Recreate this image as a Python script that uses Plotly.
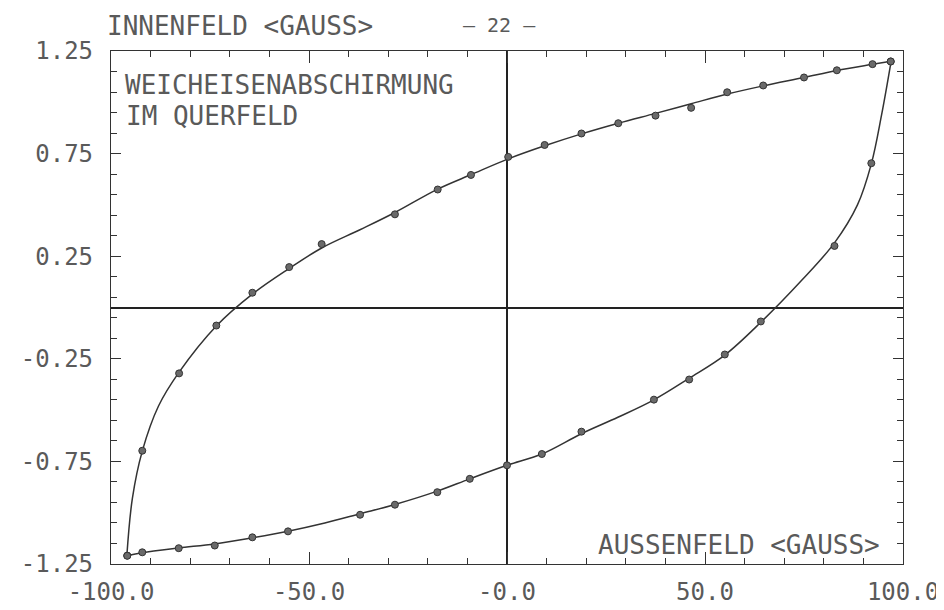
import plotly.graph_objects as go

# ---- measured data (read from the picture) ----
# descending branch (field from +100 to -100): measured points
upper_x = [96.9, 92.3, 83.3, 75.0, 64.7, 55.6, 46.5, 37.5, 28.1, 18.8, 9.5, 0.3,
           -9.1, -17.5, -28.3, -46.8, -55.0, -64.3, -73.4, -82.8, -92.1, -95.9]
upper_y = [1.199, 1.186, 1.156, 1.121, 1.082, 1.049, 0.973, 0.935, 0.898, 0.848, 0.792, 0.734,
           0.646, 0.575, 0.454, 0.309, 0.197, 0.072, -0.088, -0.321, -0.698, -1.209]

# ascending branch: measured points
lower_x = [-95.9, -92.1, -82.9, -73.8, -64.3, -55.3, -37.1, -28.3, -17.6, -9.4, 0.0, 8.8,
           18.8, 37.1, 46.0, 55.0, 64.1, 82.7, 92.0, 96.9]
lower_y = [-1.210, -1.193, -1.173, -1.160, -1.120, -1.091, -1.010, -0.961, -0.900, -0.835, -0.769, -0.714,
           -0.605, -0.449, -0.351, -0.229, -0.068, 0.300, 0.703, 1.199]

# fitted curve drawn through the points
fit_upper_x = [97.0, 92.3, 83.3, 75.0, 64.7, 55.6, 46.5, 37.5, 28.1, 18.8, 9.5, 0.0,
               -9.0, -17.5, -28.3, -37.0, -46.8, -55.0, -64.3, -73.4, -82.8,
               -88.0, -92.1, -94.6, -96.0]
fit_upper_y = [1.200, 1.185, 1.155, 1.121, 1.080, 1.040, 0.993, 0.946, 0.898, 0.846, 0.788, 0.722,
               0.648, 0.577, 0.463, 0.380, 0.290, 0.190, 0.065, -0.090, -0.315,
               -0.480, -0.700, -0.930, -1.210]
fit_lower_x = [-96.0, -92.1, -82.9, -73.8, -64.3, -55.3, -46.0, -37.1, -28.3, -17.6, -9.4, 0.0,
               8.8, 18.8, 28.0, 37.1, 46.0, 55.0, 64.1, 74.3, 82.7, 88.5,
               92.0, 94.6, 97.0]
fit_lower_y = [-1.210, -1.195, -1.172, -1.152, -1.122, -1.090, -1.050, -1.005, -0.960, -0.895, -0.835, -0.769,
               -0.714, -0.615, -0.535, -0.450, -0.345, -0.232, -0.072, 0.130, 0.315, 0.500,
               0.700, 0.940, 1.200]

x_tick_vals = [-100, -50, 0, 50, 100]
x_tick_text = ["-100.0", "-50.0", "-0.0", "50.0", "100.0"]
y_tick_vals = [-1.25, -0.75, -0.25, 0.25, 0.75, 1.25]
y_tick_text = ["-1.25", "-0.75", "-0.25", "0.25", "0.75", "1.25"]

y_axis_title = "INNENFELD <GAUSS>"
x_axis_title = "AUSSENFELD <GAUSS>"
page_mark = "— 22 —"
label_line1 = "WEICHEISENABSCHIRMUNG"
label_line2 = "IM QUERFELD"

# ---- styling ----
INK = "#333333"
TXT = "#5a5a5a"
FONT = "DejaVu Sans Mono"

fig = go.Figure()

for fx, fy in ((fit_upper_x, fit_upper_y), (fit_lower_x, fit_lower_y)):
    fig.add_trace(go.Scatter(x=fx, y=fy, mode="lines",
                             line=dict(color=INK, width=1.5, shape="spline", smoothing=1.0),
                             hoverinfo="skip", showlegend=False))

for px, py in ((upper_x, upper_y), (lower_x, lower_y)):
    fig.add_trace(go.Scatter(x=px, y=py, mode="markers",
                             marker=dict(symbol="circle", size=7, color="#6a6a6a",
                                         line=dict(color=INK, width=1)),
                             showlegend=False))

axis_common = dict(
    showgrid=False, showline=True, linecolor=INK, linewidth=1.3, mirror="ticks",
    ticks="inside", tickcolor=INK, tickwidth=1.2,
    zeroline=True, zerolinecolor="#222222", zerolinewidth=2,
    tickfont=dict(family=FONT, size=24, color=TXT),
)

fig.update_xaxes(range=[-100, 100], tickmode="array", tickvals=x_tick_vals, ticktext=x_tick_text,
                 ticklen=12, minor=dict(tick0=0, dtick=10, ticks="inside", ticklen=6,
                                        tickcolor=INK, tickwidth=1),
                 ticklabelstandoff=6, **axis_common)
fig.update_yaxes(range=[-1.25, 1.25], tickmode="array", tickvals=y_tick_vals, ticktext=y_tick_text,
                 ticklen=10, minor=dict(tick0=0.05, dtick=0.1, ticks="inside", ticklen=6,
                                        tickcolor=INK, tickwidth=1),
                 ticklabelstandoff=12, **axis_common)

ann_font = dict(family=FONT, size=26, color=TXT)
fig.add_annotation(text=y_axis_title, xref="paper", yref="paper", x=-0.007, y=1.049,
                   xanchor="left", yanchor="middle", showarrow=False, font=ann_font)
fig.add_annotation(text=page_mark, xref="paper", yref="paper", x=0.491, y=1.051,
                   xanchor="center", yanchor="middle", showarrow=False,
                   font=dict(family=FONT, size=20, color=TXT))
fig.add_annotation(text=label_line1, xref="paper", yref="paper", x=0.015, y=0.934,
                   xanchor="left", yanchor="middle", showarrow=False, font=ann_font)
fig.add_annotation(text=label_line2, xref="paper", yref="paper", x=0.017, y=0.873,
                   xanchor="left", yanchor="middle", showarrow=False, font=ann_font)
fig.add_annotation(text=x_axis_title, xref="paper", yref="paper", x=0.973, y=0.038,
                   xanchor="right", yanchor="middle", showarrow=False, font=ann_font)

fig.update_layout(
    width=944, height=610,
    margin=dict(l=103, r=49, t=43, b=38),
    paper_bgcolor="white", plot_bgcolor="white",
    showlegend=False,
)

fig.write_html("out.html")
